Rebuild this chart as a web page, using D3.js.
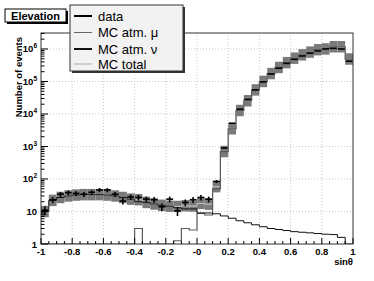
<!DOCTYPE html>
<html>
<head>
<meta charset="utf-8">
<script src="https://cdn.jsdelivr.net/npm/d3@7"></script>
<style>
body { margin: 0; background: #fff; }
text { font-family: "Liberation Sans", Arial, sans-serif; }
</style>
</head>
<body>
<script>
// 40 bins of sin(theta), width 0.05
var binEdges = d3.range(41).map(function (i) { return +(-1 + i * 0.05).toFixed(2); });

var dataCounts = [11, 23, 34, 38, 36, 34, 39, 46, 46, 34,
	21, 28, 27, 24, 23, 14, 24, 10.5, 19, 23,
	27, 24, 84, 900, 5200, 14000, 28000, 55000, 97000, 170000,
	255000, 360000, 480000, 610000, 740000, 870000, 1000000, 1050000, 1000000, 420000];

var mcNu = [10, 22, 27, 30, 32, 33, 33, 33, 32, 30,
	27, 24, 20, 19, 17, 15.5, 14.5, 13, 12, 12,
	9, 9, 8.5, 7.3, 6.2, 5.2, 4.5, 3.9, 3.4, 3.0,
	2.8, 2.6, 2.4, 2.3, 2.2, 2.1, 2.0, 1.95, 1.6, 0];

var mcMu = [0, 0, 0, 0, 0, 0, 0, 0, 0, 0,
	0, 0, 3.0, 0, 0, 0, 0, 1.26, 3.0, 2.7,
	8.8, 7.8, 50, 690, 3500, 12800, 25500, 55000, 100000, 175000,
	270000, 380000, 520000, 660000, 800000, 950000, 1000000, 1170000, 1170000, 490000];

var mcTotal = [10, 22, 27, 30, 32, 33, 33, 33, 32, 30,
	27, 24, 23, 19, 17, 15.5, 14.5, 14.3, 15, 14.7,
	17.8, 16.8, 58, 700, 3500, 12800, 25500, 55000, 100000, 175000,
	270000, 380000, 520000, 660000, 800000, 950000, 1000000, 1170000, 1170000, 490000];

var sysFactor = 1.5; // band: total / f .. total * f

var xTicks = [-1, -0.8, -0.6, -0.4, -0.2, 0, 0.2, 0.4, 0.6, 0.8, 1];
var xTickLabels = ["-1", "-0.8", "-0.6", "-0.4", "-0.2", "-0", "0.2", "0.4", "0.6", "0.8", "1"];
var yDecades = [1, 10, 100, 1e3, 1e4, 1e5, 1e6];
var legendItems = ["data", "MC atm. \u03bc", "MC atm. \u03bd", "MC total"];

var W = 374, H = 281;
var pLeft = 41, pRight = 353, pTop = 33, pBottom = 244;

var svg = d3.select("body").append("svg")
	.attr("width", W)
	.attr("height", H);

var x = d3.scaleLinear().domain([-1, 1]).range([pLeft, pRight]);
var y = d3.scaleLog().domain([1, 3.1e6]).range([pBottom, pTop]);

var bins = dataCounts.map(function (d, i) {
	return { x0: binEdges[i], x1: binEdges[i + 1], data: d,
		nu: mcNu[i], mu: mcMu[i], total: mcTotal[i] };
});

svg.append("clipPath").attr("id", "frame")
	.append("rect").attr("x", pLeft).attr("y", pTop)
	.attr("width", pRight - pLeft).attr("height", pBottom - pTop);

// grid
var grid = svg.append("g").attr("stroke", "#bbb").attr("stroke-dasharray", "1,2").attr("stroke-width", 0.8);
grid.selectAll("line.gx").data(xTicks.slice(1, -1)).enter().append("line")
	.attr("x1", function (d) { return x(d); }).attr("x2", function (d) { return x(d); })
	.attr("y1", pTop).attr("y2", pBottom);
grid.selectAll("line.gy").data(yDecades.slice(1)).enter().append("line")
	.attr("x1", pLeft).attr("x2", pRight)
	.attr("y1", function (d) { return y(d); }).attr("y2", function (d) { return y(d); });

var plot = svg.append("g").attr("clip-path", "url(#frame)");

// systematic band on MC total
plot.selectAll("rect.band").data(bins).enter().append("rect")
	.attr("x", function (d) { return x(d.x0); })
	.attr("width", function (d) { return x(d.x1) - x(d.x0); })
	.attr("y", function (d) { return y(d.total * sysFactor); })
	.attr("height", function (d) { return y(Math.max(1, d.total / sysFactor)) - y(d.total * sysFactor); })
	.attr("fill", "#7a7a7a");

function stepPath(key) {
	var p = d3.path();
	bins.forEach(function (d, i) {
		var v = y(Math.max(1, d[key]));
		if (i === 0) p.moveTo(x(d.x0), v); else p.lineTo(x(d.x0), v);
		p.lineTo(x(d.x1), v);
	});
	return p.toString();
}

plot.append("path").attr("d", stepPath("total"))
	.attr("fill", "none").attr("stroke", "#c8c8c8").attr("stroke-width", 1);
plot.append("path").attr("d", stepPath("mu"))
	.attr("fill", "none").attr("stroke", "#5a5a5a").attr("stroke-width", 1.2);
plot.append("path").attr("d", stepPath("nu"))
	.attr("fill", "none").attr("stroke", "#111").attr("stroke-width", 1);

// data points with sqrt(N) errors
var pts = plot.selectAll("g.pt").data(bins).enter().append("g")
	.attr("stroke", "#000").attr("stroke-width", 1.6);
pts.append("line")
	.attr("x1", function (d) { return x(d.x0) + 0.5; })
	.attr("x2", function (d) { return x(d.x1) - 0.5; })
	.attr("y1", function (d) { return y(d.data); })
	.attr("y2", function (d) { return y(d.data); });
pts.append("line")
	.attr("x1", function (d) { return x((d.x0 + d.x1) / 2); })
	.attr("x2", function (d) { return x((d.x0 + d.x1) / 2); })
	.attr("y1", function (d) { return y(d.data + Math.sqrt(d.data)); })
	.attr("y2", function (d) { return y(Math.max(1, d.data - Math.sqrt(d.data))); });

// frame
svg.append("rect").attr("x", pLeft).attr("y", pTop)
	.attr("width", pRight - pLeft).attr("height", pBottom - pTop)
	.attr("fill", "none").attr("stroke", "#333").attr("stroke-width", 1);

// x axis ticks (inside, pointing up)
var xMinor = d3.range(41).map(function (i) { return -1 + i * 0.05; });
svg.append("g").selectAll("line").data(xMinor).enter().append("line")
	.attr("x1", function (d) { return x(d); }).attr("x2", function (d) { return x(d); })
	.attr("y1", pBottom)
	.attr("y2", function (d, i) { return i % 4 === 0 ? pBottom - 6 : pBottom - 3; })
	.attr("stroke", "#000").attr("stroke-width", 1);
svg.append("g").selectAll("text").data(xTicks).enter().append("text")
	.attr("x", function (d) { return x(d); })
	.attr("y", 255)
	.attr("text-anchor", "middle")
	.attr("font-size", "9.5px").attr("font-weight", "bold")
	.text(function (d, i) { return xTickLabels[i]; });

// y axis ticks (inside, pointing right)
var yMinor = [];
yDecades.forEach(function (dec) {
	d3.range(1, 10).forEach(function (k) { if (dec * k <= 3.1e6) yMinor.push({ v: dec * k, major: k === 1 }); });
});
svg.append("g").selectAll("line").data(yMinor).enter().append("line")
	.attr("x1", pLeft)
	.attr("x2", function (d) { return d.major ? pLeft + 7 : pLeft + 3.5; })
	.attr("y1", function (d) { return y(d.v); }).attr("y2", function (d) { return y(d.v); })
	.attr("stroke", "#000").attr("stroke-width", 1);

var yLab = svg.append("g").selectAll("text").data(yDecades).enter().append("text")
	.attr("x", 37)
	.attr("y", function (d) { return y(d) + 3.5; })
	.attr("text-anchor", "end")
	.attr("font-size", "9.5px").attr("font-weight", "bold");
yLab.each(function (d, i) {
	var t = d3.select(this);
	if (i === 0) { t.text("1"); return; }
	if (i === 1) { t.text("10"); return; }
	t.append("tspan").text("10");
	t.append("tspan").attr("dy", -4).attr("font-size", "6.5px").text(i);
});

// axis titles
svg.append("text")
	.attr("transform", "translate(22,37) rotate(-90)")
	.attr("text-anchor", "end")
	.attr("font-size", "9.5px").attr("font-weight", "bold")
	.text("Number of events");
svg.append("text")
	.attr("x", 353).attr("y", 265)
	.attr("text-anchor", "end")
	.attr("font-size", "9.5px").attr("font-weight", "bold")
	.text("sin\u03b8");

// title box
svg.append("rect").attr("x", 7).attr("y", 11).attr("width", 61).attr("height", 13).attr("fill", "#000");
svg.append("rect").attr("x", 5).attr("y", 9).attr("width", 61).attr("height", 13)
	.attr("fill", "#fff").attr("stroke", "#000").attr("stroke-width", 1);
svg.append("text").attr("x", 35.5).attr("y", 19.5)
	.attr("text-anchor", "middle")
	.attr("font-size", "11px").attr("font-weight", "bold")
	.text("Elevation");

// legend
svg.append("rect").attr("x", 72).attr("y", 7).attr("width", 113).attr("height", 66).attr("fill", "#333");
svg.append("rect").attr("x", 70).attr("y", 5).attr("width", 113).attr("height", 66)
	.attr("fill", "#f2f2f2").attr("stroke", "#333").attr("stroke-width", 1);
var legStroke = ["#000", "#666", "#111", "#aaa"];
var legWidth = [2, 1, 2, 1];
var legY = [16, 32.5, 49, 64];
var leg = svg.append("g").selectAll("g").data(legendItems).enter().append("g")
	.attr("transform", function (d, i) { return "translate(0," + legY[i] + ")"; });
leg.append("line").attr("x1", 74).attr("x2", 92).attr("y1", 0).attr("y2", 0)
	.attr("stroke", function (d, i) { return legStroke[i]; })
	.attr("stroke-width", function (d, i) { return legWidth[i]; });
leg.append("text").attr("x", 98).attr("y", 4.5)
	.attr("font-size", "13px")
	.text(function (d) { return d; });
</script>
</body>
</html>
